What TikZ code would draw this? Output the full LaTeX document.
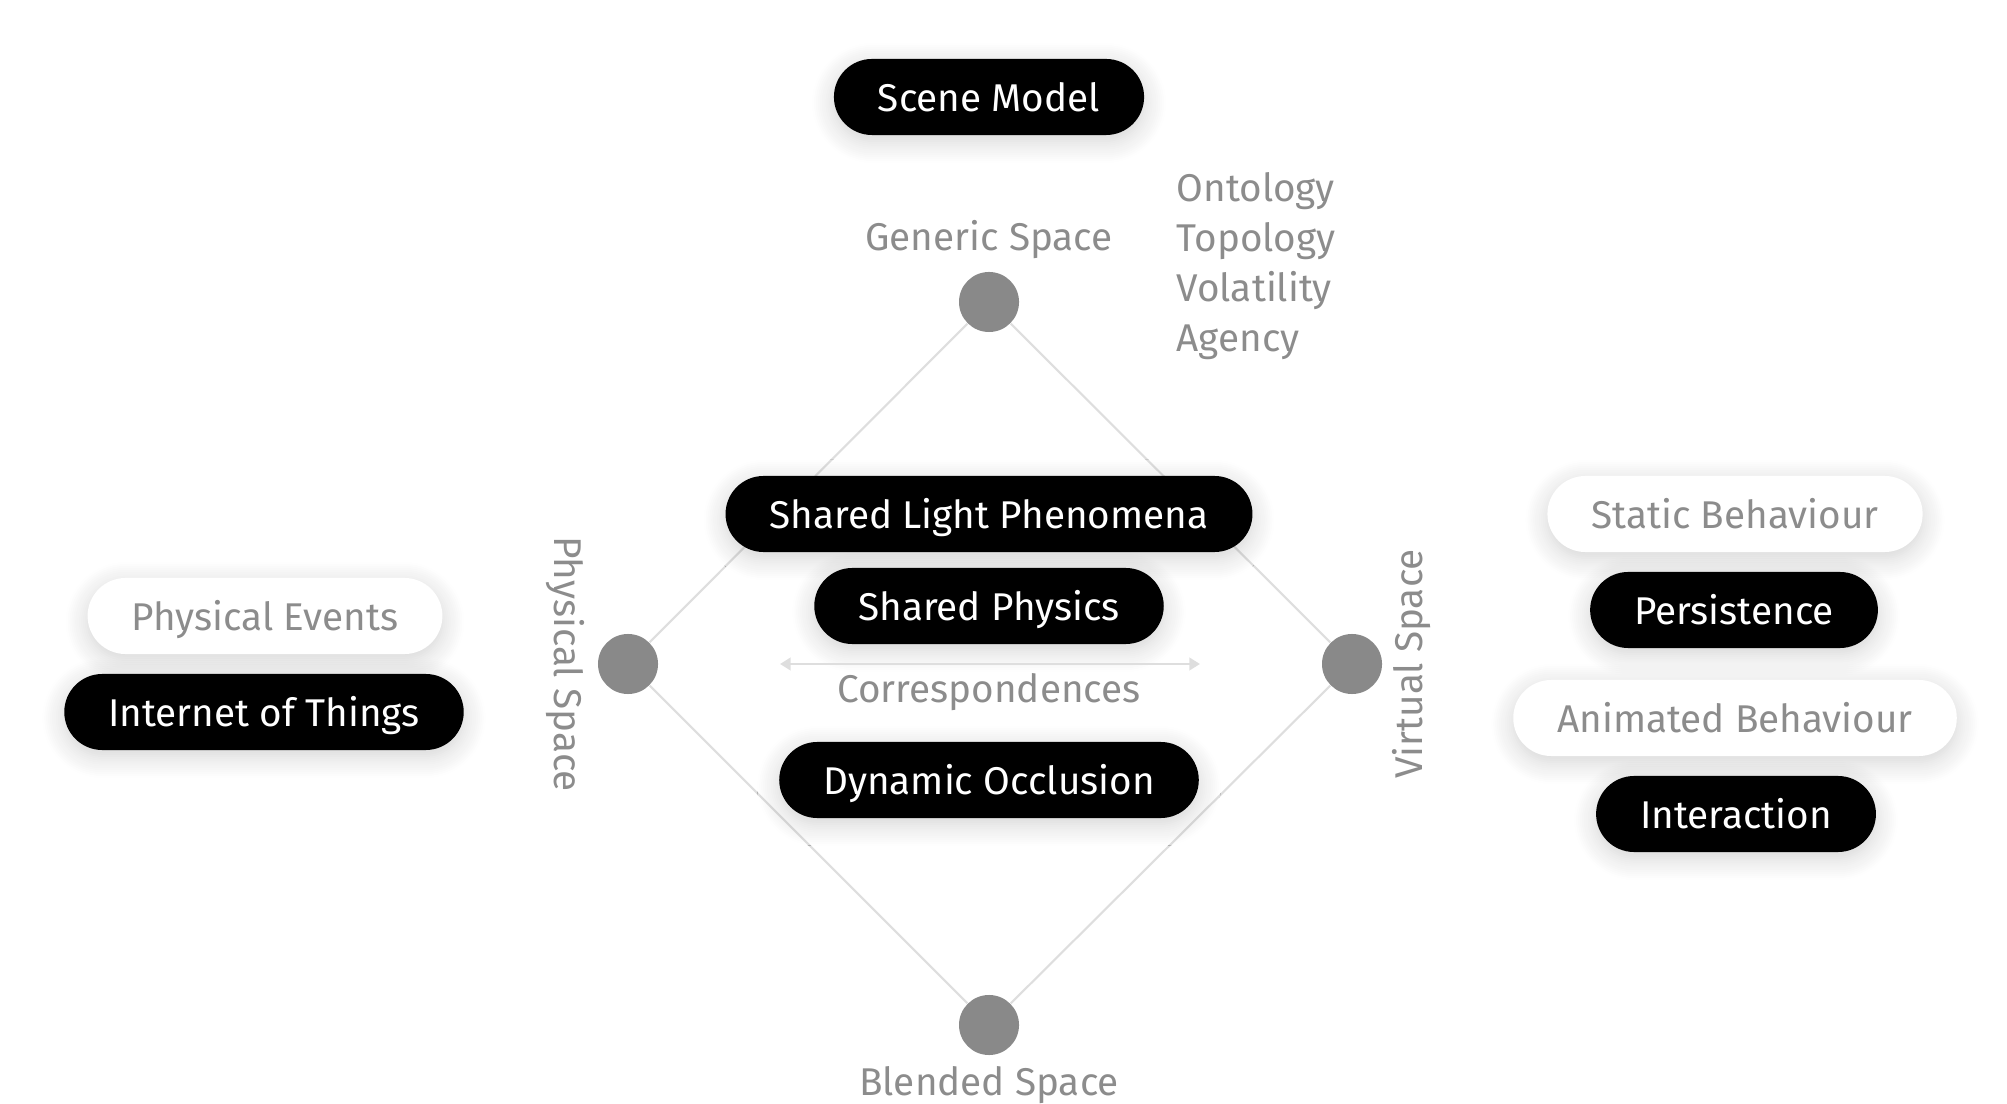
\documentclass[tikz,border=0pt]{standalone}
\usepackage{fontspec}
\setmainfont{Fira Sans}
\usetikzlibrary{arrows.meta,shadows.blur}

\definecolor{txtgray}{HTML}{8C8C8C}
\definecolor{dotgray}{HTML}{898989}
\definecolor{linegray}{HTML}{DEDEDE}

\tikzset{
  pill/.style={rectangle, rounded corners=0.38cm, minimum height=0.76cm,
    inner xsep=0.44cm, inner ysep=0pt, text height=0.88em, text depth=0.08em,
    fill=black, text=white,
    blur shadow={shadow blur steps=12, shadow xshift=0pt, shadow yshift=-0.06cm,
      shadow blur radius=0.22cm, shadow opacity=18}},
  ghostpill/.style={pill, fill=white, text=txtgray},
  spacedot/.style={circle, fill=dotgray, minimum size=0.6cm, inner sep=0pt},
  spacelabel/.style={text=txtgray, inner sep=0pt},
  edge/.style={draw=linegray, line width=0.6pt}
}

\begin{document}
\begin{tikzpicture}[x=0.01cm, y=-0.01cm, font=\fontsize{11}{14.2}\selectfont]
    \useasboundingbox (0,0) rectangle (2007,1104);

    % the four spaces
    \node [spacedot] (gen) at (989,302) {};
    \node [spacedot] (phys) at (628,664) {};
    \node [spacedot] (virt) at (1352,664) {};
    \node [spacedot] (blend) at (989,1025) {};
    \draw [edge] (gen) -- (virt);
    \draw [edge] (virt) -- (blend);
    \draw [edge] (blend) -- (phys);
    \draw [edge] (phys) -- (gen);

    \node [spacelabel] (genlabel) at (989,240) {Generic Space};
    \node [spacelabel] (blendlabel) at (989,1085) {Blended Space};
    \node [spacelabel, rotate=-90] (physlabel) at (565,664) {Physical Space};
    \node [spacelabel, rotate=90] (virtlabel) at (1412,664) {Virtual Space};
    \node [spacelabel, anchor=west, align=left] (aspects) at (1176,266)
        {Ontology\\Topology\\Volatility\\Agency};

    % scene model
    \node [pill] (scene) at (989,97) {Scene Model};

    % correspondences
    \node [pill] (light) at (989,514) {Shared Light Phenomena};
    \node [pill] (physics) at (989,606) {Shared Physics};
    \coordinate (corrL) at (780,664);
    \coordinate (corrR) at (1200,664);
    \draw [linegray, line width=0.8pt, {Triangle[length=3pt,width=3.5pt]}-{Triangle[length=3pt,width=3.5pt]}] (corrL) -- (corrR);
    \node [spacelabel] (corr) at (989,692) {Correspondences};
    \node [pill] (occlusion) at (989,780) {Dynamic Occlusion};

    % physical side
    \node [ghostpill] (events) at (265,616) {Physical Events};
    \node [pill] (iot) at (264,712) {Internet of Things};

    % virtual side
    \node [ghostpill] (static) at (1735,514) {Static Behaviour};
    \node [pill] (persist) at (1734,610) {Persistence};
    \node [ghostpill] (animated) at (1735,718) {Animated Behaviour};
    \node [pill] (interact) at (1736,814) {Interaction};
\end{tikzpicture}
\end{document}
